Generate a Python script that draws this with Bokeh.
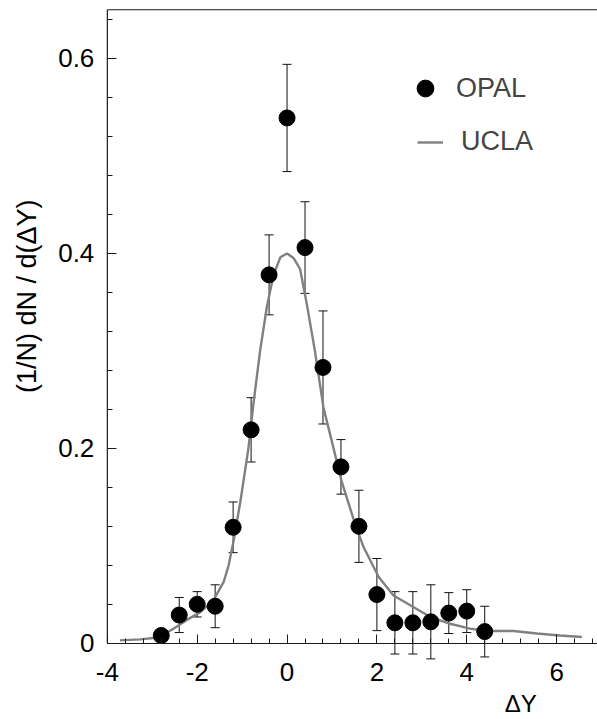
import math
from bokeh.plotting import figure
from bokeh.models import (ColumnDataSource, Whisker, TeeHead, LinearAxis,
                          SingleIntervalTicker, Label, Legend, LegendItem, Range1d)
from bokeh.embed import file_html
from bokeh.resources import INLINE

# OPAL measurement: rapidity difference bins, density, and error
opal_dy = [-2.8, -2.4, -2.0, -1.6, -1.2, -0.8, -0.4, 0.0, 0.4, 0.8,
           1.2, 1.6, 2.0, 2.4, 2.8, 3.2, 3.6, 4.0, 4.4]
opal_val = [0.008, 0.029, 0.040, 0.038, 0.119, 0.219, 0.378, 0.539, 0.406, 0.283,
            0.181, 0.120, 0.050, 0.021, 0.021, 0.022, 0.031, 0.033, 0.012]
opal_err = [0.004, 0.018, 0.013, 0.022, 0.026, 0.033, 0.041, 0.055, 0.047, 0.058,
            0.028, 0.037, 0.037, 0.032, 0.032, 0.038, 0.021, 0.022, 0.026]

# UCLA model curve
ucla_dy = [-3.72, -3.27, -2.86, -2.53, -2.23, -1.93, -1.64, -1.41, -1.30, -1.19,
           -1.04, -0.86, -0.75, -0.60, -0.45, -0.30, -0.15, 0.0, 0.15, 0.29, 0.44, 0.62,
           0.81, 1.03, 1.21, 1.51, 1.70, 2.04, 2.37, 2.82, 3.19, 3.63,
           4.07, 4.44, 5.04, 5.56, 6.07, 6.56]
ucla_val = [0.003, 0.004, 0.006, 0.015, 0.024, 0.032, 0.044, 0.063, 0.080, 0.105,
            0.145, 0.200, 0.245, 0.300, 0.345, 0.378, 0.396, 0.400, 0.395, 0.384, 0.348, 0.300,
            0.242, 0.201, 0.167, 0.123, 0.099, 0.068, 0.049, 0.037, 0.027, 0.020,
            0.015, 0.0126, 0.0126, 0.010, 0.008, 0.0065]

x_ticks = [-4, -2, 0, 2, 4, 6]
x_tick_labels = ["-4", "-2", "0", "2", "4", "6"]
y_ticks = [0.0, 0.2, 0.4, 0.6]
y_tick_labels = ["0", "0.2", "0.4", "0.6"]

X_MIN, X_MAX = -4.0, 6.91
Y_MIN, Y_MAX = 0.0, 0.65
X_LINE_END = 7.4  # frame lines run past the right edge of the view

FONT = "Liberation Sans"
INK = "#1a1a1a"

src = ColumnDataSource(dict(
    x=opal_dy, y=opal_val,
    lo=[v - e for v, e in zip(opal_val, opal_err)],
    hi=[v + e for v, e in zip(opal_val, opal_err)],
))
curve = ColumnDataSource(dict(x=ucla_dy, y=ucla_val))

# the frame fills the whole canvas; axes are pinned at x = -4 and y = 0
p = figure(width=597, height=719, output_backend="svg", toolbar_location=None,
           x_range=Range1d(-6.378, X_MAX), y_range=Range1d(-0.0782, 0.6595),
           x_axis_type=None, y_axis_type=None,
           min_border_left=0, min_border_right=0, min_border_top=0, min_border_bottom=0)
p.outline_line_color = None
p.xgrid.visible = False
p.ygrid.visible = False
p.background_fill_color = "white"
p.border_fill_color = "white"

xaxis = LinearAxis(fixed_location=Y_MIN, bounds=(X_MIN, X_LINE_END),
                   ticker=SingleIntervalTicker(interval=2, num_minor_ticks=5),
                   major_label_overrides={t: s for t, s in zip(x_ticks, x_tick_labels)})
yaxis = LinearAxis(fixed_location=X_MIN, bounds=(Y_MIN, Y_MAX),
                   ticker=SingleIntervalTicker(interval=0.2, num_minor_ticks=5),
                   major_label_overrides={t: s for t, s in zip(y_ticks, y_tick_labels)})
for ax in (xaxis, yaxis):
    ax.axis_line_color = INK
    ax.axis_line_width = 1.2
    ax.major_tick_line_color = INK
    ax.minor_tick_line_color = INK
    ax.major_tick_in = 9
    ax.major_tick_out = 0
    ax.minor_tick_in = 5
    ax.minor_tick_out = 0
    ax.major_label_text_font = FONT
    ax.major_label_text_font_size = "26px"
    ax.major_label_text_color = "black"
xaxis.major_label_standoff = 20
yaxis.major_label_standoff = 13
yaxis.axis_line_color = None
p.add_layout(xaxis, "below")
p.add_layout(yaxis, "left")

# frame lines: left edge and top edge
p.segment(x0=[X_MIN, X_MIN], y0=[Y_MIN, Y_MAX], x1=[X_MIN, X_LINE_END], y1=[Y_MAX, Y_MAX],
          line_color=INK, line_width=1.2)

line_r = p.line("x", "y", source=curve, line_color="#808080", line_width=2.4)
p.add_layout(Whisker(source=src, base="x", lower="lo", upper="hi",
                     line_color="#111111", line_width=1,
                     upper_head=TeeHead(size=9, line_color="#111111", line_width=1),
                     lower_head=TeeHead(size=9, line_color="#111111", line_width=1)))
pts_r = p.scatter("x", "y", source=src, size=16, color="black")

# axis titles
p.add_layout(Label(x=5.2, y=-0.062, text="ΔY", text_font=FONT, text_font_size="24px",
                   text_align="center", text_baseline="middle", text_color="black"))
p.add_layout(Label(x=-5.78, y=0.356, text="(1/N) dN / d(ΔY)", angle=math.pi / 2,
                   text_font=FONT, text_font_size="27px",
                   text_align="center", text_baseline="middle", text_color="black"))

# legend entries
leg1 = Legend(items=[LegendItem(label="OPAL", renderers=[pts_r])],
              location=(404, 610), glyph_width=42, glyph_height=42, label_height=42,
              label_standoff=10, padding=0, margin=0, border_line_color=None,
              background_fill_alpha=0, label_text_font=FONT, label_text_font_size="27px")
leg2 = Legend(items=[LegendItem(label="UCLA", renderers=[line_r])],
              location=(417, 562), glyph_width=26, glyph_height=26, label_height=26,
              label_standoff=18, padding=0, margin=0, border_line_color=None,
              background_fill_alpha=0, label_text_font=FONT, label_text_font_size="27px")
p.add_layout(leg1, "center")
p.add_layout(leg2, "center")

open("out.html", "w").write(file_html(p, INLINE))
